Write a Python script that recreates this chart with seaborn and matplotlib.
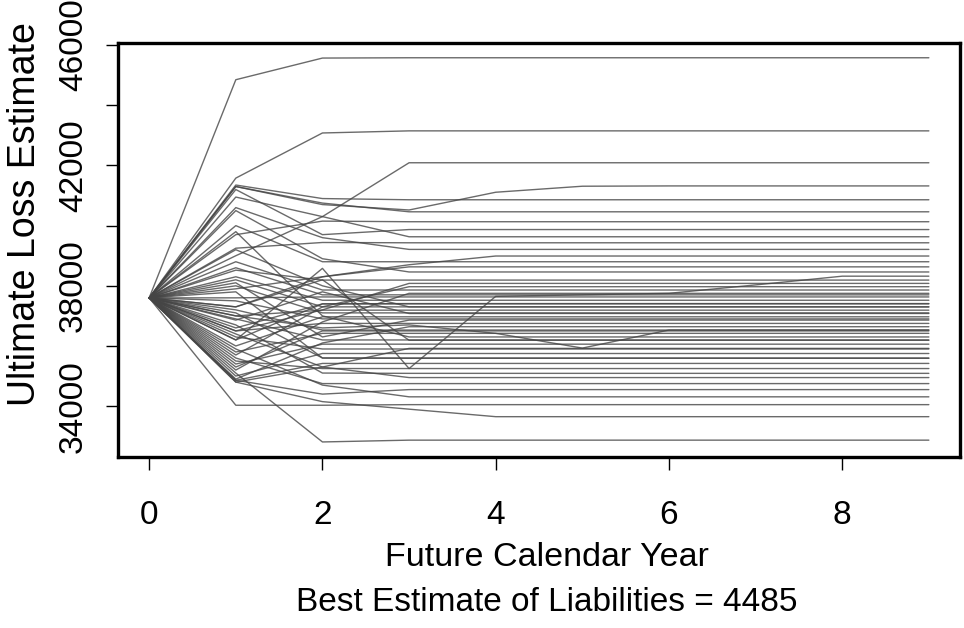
import matplotlib
matplotlib.use('Agg')
import matplotlib.pyplot as plt
import seaborn as sns
import pandas as pd

# Simulated development paths of the ultimate loss estimate
years = list(range(10))
start_value = 37600

# Paths that keep moving for several years: full values for years 0..9
long_paths = [
    [37600, 44850, 45570, 45580, 45580, 45580, 45580, 45580, 45580, 45580],
    [37600, 41580, 43080, 43150, 43150, 43150, 43150, 43150, 43150, 43150],
    [37600, 39000, 40300, 42090, 42090, 42090, 42090, 42090, 42090, 42090],
    [37600, 41300, 40700, 40520, 41110, 41310, 41320, 41320, 41320, 41320],
    [37600, 37000, 36600, 36700, 36420, 35930, 36530, 36530, 36530, 36530],
    [37600, 36200, 38580, 35250, 37650, 37700, 37750, 38030, 38320, 38320],
    [37600, 34800, 34150, 33900, 33650, 33650, 33650, 33650, 33650, 33650],
    [37600, 35100, 32810, 32870, 32870, 32870, 32870, 32870, 32870, 32870],
    [37600, 37300, 38300, 38700, 38990, 38990, 38990, 38990, 38990, 38990],
]

# Paths that settle after year 3: values at years 1, 2 and 3
settle_y1 = [41350, 41300, 39700, 41200, 40950, 39250, 40600, 40000, 37900, 40500,
             38520, 36500, 38200, 38800, 35200, 37600, 38300, 36200, 39200, 37000,
             36860, 36000, 38100, 36500, 34900, 35800, 39800, 37300, 35400, 36400,
             35000, 37800, 34860, 35500, 36700, 34800, 35600, 34860, 35900, 34030,
             37200, 38600, 36900, 35700, 37500, 36300, 38000, 35300, 37100, 36600]
settle_y2 = [40900, 40750, 40150, 39700, 40300, 39440, 39600, 38800, 38300, 38900,
             38190, 37200, 37300, 37860, 36800, 37630, 37520, 37400, 38000, 37190,
             37800, 36970, 36300, 36750, 36100, 36420, 37000, 38200, 36060, 35300,
             35750, 35600, 35420, 35250, 35100, 35300, 34750, 34400, 34700, 34030,
             36530, 37700, 36200, 37300, 36900, 35900, 37100, 36500, 35600, 37400]
settle_y3 = [40860, 40460, 40130, 39870, 39630, 39430, 39210, 38800, 38630, 38460,
             38190, 38080, 37970, 37860, 37750, 37630, 37520, 37410, 37300, 37190,
             37080, 36970, 36860, 36750, 36640, 36420, 36300, 36190, 36060, 35920,
             35750, 35590, 35420, 35250, 35090, 34950, 34750, 34550, 34310, 34050,
             36530, 37700, 36200, 37300, 36900, 35900, 37100, 36500, 35600, 37400]

y_ticks = [34000, 36000, 38000, 40000, 42000, 44000, 46000]
y_tick_labels = ['34000', '', '38000', '', '42000', '', '46000']
x_ticks = [0, 2, 4, 6, 8]

# long-format table: one row per path and year
rows = []
for i, path in enumerate(long_paths):
    for yr, v in zip(years, path):
        rows.append((i, yr, v))
n_long = len(long_paths)
for j, (a, b, c) in enumerate(zip(settle_y1, settle_y2, settle_y3)):
    # flat once settled at year 3
    path = [start_value, a, b, c] + [c] * (len(years) - 4)
    for yr, v in zip(years, path):
        rows.append((n_long + j, yr, v))
df = pd.DataFrame(rows, columns=['path', 'year', 'estimate'])

sns.set_style('white')
plt.rcParams['font.family'] = ['Liberation Sans', 'DejaVu Sans']
plt.rcParams['text.color'] = 'black'
plt.rcParams['xtick.color'] = 'black'
plt.rcParams['ytick.color'] = 'black'

fig = plt.figure(figsize=(9.64, 6.28), dpi=100)
ax = fig.add_axes([0.1224, 0.2723, 0.8735, 0.6592])

sns.lineplot(data=df, x='year', y='estimate', units='path', estimator=None,
             color='#454545', linewidth=1.0, alpha=0.8, ax=ax, legend=False)

ax.set_xlim(-0.36, 9.36)
ax.set_ylim(32310, 46070)
ax.set_xticks(x_ticks)
ax.set_xticklabels([str(t) for t in x_ticks])
ax.set_yticks(y_ticks)
ax.set_yticklabels(y_tick_labels, rotation=90, va='center')
ax.tick_params(axis='both', which='both', direction='out', length=9, width=1.0,
               color='black', labelcolor='black', labelsize=24, left=True, bottom=True)
ax.tick_params(axis='x', pad=22)
ax.tick_params(axis='y', pad=12)
for s in ax.spines.values():
    s.set_linewidth(2.4)
    s.set_color('black')

ax.set_xlabel('')
ax.set_ylabel('')
fig.text(0.5675, 0.1115, 'Future Calendar Year', fontsize=24.5,
         ha='center', va='center')
fig.text(0.026, 0.659, 'Ultimate Loss Estimate', fontsize=27, rotation=90,
         ha='center', va='center')
fig.text(0.5675, 0.0414, 'Best Estimate of Liabilities = 4485', fontsize=24,
         ha='center', va='center')

fig.savefig('out.png', dpi=100)
